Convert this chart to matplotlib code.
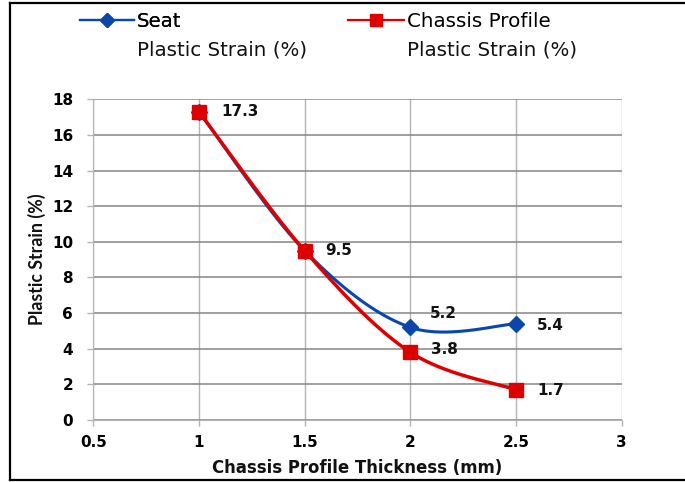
import numpy as np
import matplotlib
matplotlib.use("Agg")
import matplotlib.pyplot as plt
from matplotlib.lines import Line2D

# ---- data ----
thickness = [1.0, 1.5, 2.0, 2.5]
seat_strain = [17.3, 9.5, 5.2, 5.4]
chassis_strain = [17.3, 9.5, 3.8, 1.7]
x_ticks = [0.5, 1, 1.5, 2, 2.5, 3]
x_tick_labels = ["0.5", "1", "1.5", "2", "2.5", "3"]
y_ticks = [0, 2, 4, 6, 8, 10, 12, 14, 16, 18]

BLUE = "#0a47ad"
RED = "#dc0000"
TEXT = "#111111"


def smooth_curve(xs, ys, n=60):
    """Catmull-Rom style Bezier smoothing through every point."""
    p = np.column_stack([xs, ys]).astype(float)
    ext = np.vstack([p[0], p, p[-1]])
    t = np.linspace(0, 1, n)[:, None]
    out = []
    for i in range(len(p) - 1):
        p0, p1, p2, p3 = ext[i], ext[i + 1], ext[i + 2], ext[i + 3]
        b1 = p1 + (p2 - p0) / 6.0
        b2 = p2 - (p3 - p1) / 6.0
        seg = ((1 - t) ** 3) * p1 + 3 * ((1 - t) ** 2) * t * b1 \
            + 3 * (1 - t) * t ** 2 * b2 + t ** 3 * p2
        out.append(seg if i == 0 else seg[1:])
    seg = np.vstack(out)
    return seg[:, 0], seg[:, 1]


W, H = 685, 482
fig = plt.figure(figsize=(W / 100, H / 100), dpi=100)
fig.patch.set_facecolor("white")

ax = fig.add_axes([93.3 / W, (H - 420) / H, (621.8 - 93.3) / W, (420 - 99.3) / H])
ax.set_xlim(0.5, 3)
ax.set_ylim(0, 18)

# grid: darker horizontal lines, lighter vertical ones
ax.set_xticks(x_ticks)
ax.set_xticklabels(x_tick_labels)
ax.set_yticks(y_ticks)
ax.yaxis.grid(True, color="#858585", linewidth=1.1)
ax.xaxis.grid(True, color="#b4b4b4", linewidth=1.0)
ax.set_axisbelow(True)
for side in ["top", "right"]:
    ax.spines[side].set_visible(False)
ax.spines["left"].set_color("#b4b4b4")
ax.spines["bottom"].set_color("#b4b4b4")
ax.tick_params(axis="y", direction="out", length=4.5, width=1, color="#b4b4b4",
               pad=10, labelsize=11)
ax.tick_params(axis="x", direction="out", length=4, width=1, color="#b4b4b4",
               pad=7, labelsize=11)
for lab in ax.get_xticklabels() + ax.get_yticklabels():
    lab.set_fontfamily("DejaVu Sans")
    lab.set_fontweight("bold")

# curves
sx, sy = smooth_curve(thickness, seat_strain)
ax.plot(sx, sy, color=BLUE, linewidth=2.2, solid_capstyle="round", zorder=3)
ax.plot(thickness, seat_strain, linestyle="none", marker="D", markersize=8.5,
        color=BLUE, zorder=4)
cx, cy = smooth_curve(thickness, chassis_strain)
ax.plot(cx, cy, color=RED, linewidth=2.5, solid_capstyle="round", zorder=5)
ax.plot(thickness, chassis_strain, linestyle="none", marker="s", markersize=10.5,
        color=RED, zorder=6)

# value labels (offsets in points)
seat_offsets = [None, None, (14, 10), (15, -1)]
chassis_offsets = [(16, 0), (15, 0), (15, 2), (15, -0.5)]
label_kw = dict(textcoords="offset points", ha="left", va="center",
                fontsize=11, fontweight="bold", family="DejaVu Sans",
                color=TEXT, zorder=7)
for x, y, off in zip(thickness, seat_strain, seat_offsets):
    if off is not None:
        ax.annotate(f"{y:.1f}", (x, y), xytext=off, **label_kw)
for x, y, off in zip(thickness, chassis_strain, chassis_offsets):
    ax.annotate(f"{y:.1f}", (x, y), xytext=off, **label_kw)

# axis titles
ax.set_xlabel("Chassis Profile Thickness (mm)", family="DejaVu Sans",
              fontweight="bold", fontsize=11.9, labelpad=6.5, color=TEXT)
ax.set_ylabel("Plastic Strain (%)", family="Lato", fontweight="bold",
              fontsize=12.8, labelpad=4, color=TEXT)

# legend, one entry per series, with a second caption line underneath
leg_font = dict(family="DejaVu Sans", size=14.3)
seat_handle = Line2D([], [], color=BLUE, linewidth=1.6, marker="D", markersize=7.5)
chassis_handle = Line2D([], [], color=RED, linewidth=1.6, marker="s", markersize=9)
leg1 = fig.legend([seat_handle], ["Seat"], loc="center left",
                  bbox_to_anchor=(80 / W, 1 - 21.5 / H), frameon=False,
                  prop=leg_font, handlelength=2.7, handletextpad=0.18,
                  borderpad=0, borderaxespad=0)
leg2 = fig.legend([chassis_handle], ["Chassis Profile"], loc="center left",
                  bbox_to_anchor=(348 / W, 1 - 21.5 / H), frameon=False,
                  prop=leg_font, handlelength=2.8, handletextpad=0.18,
                  borderpad=0, borderaxespad=0)
fig.add_artist(leg1)
for tx in (137, 407):
    fig.text(tx / W, 1 - 55 / H, "Plastic Strain (%)", ha="left", va="baseline",
             family="DejaVu Sans", fontsize=14.3, color=TEXT)

# outer frame (open on the right)
frame_kw = dict(transform=fig.transFigure, color="black", linewidth=1.6)
fig.add_artist(Line2D([10 / W, 10 / W], [1 - 480 / H, 1 - 3 / H], **frame_kw))
fig.add_artist(Line2D([10 / W, 1], [1 - 3 / H, 1 - 3 / H], **frame_kw))
fig.add_artist(Line2D([10 / W, 1], [1 - 480 / H, 1 - 480 / H], **frame_kw))

fig.savefig("out.png", dpi=100)
